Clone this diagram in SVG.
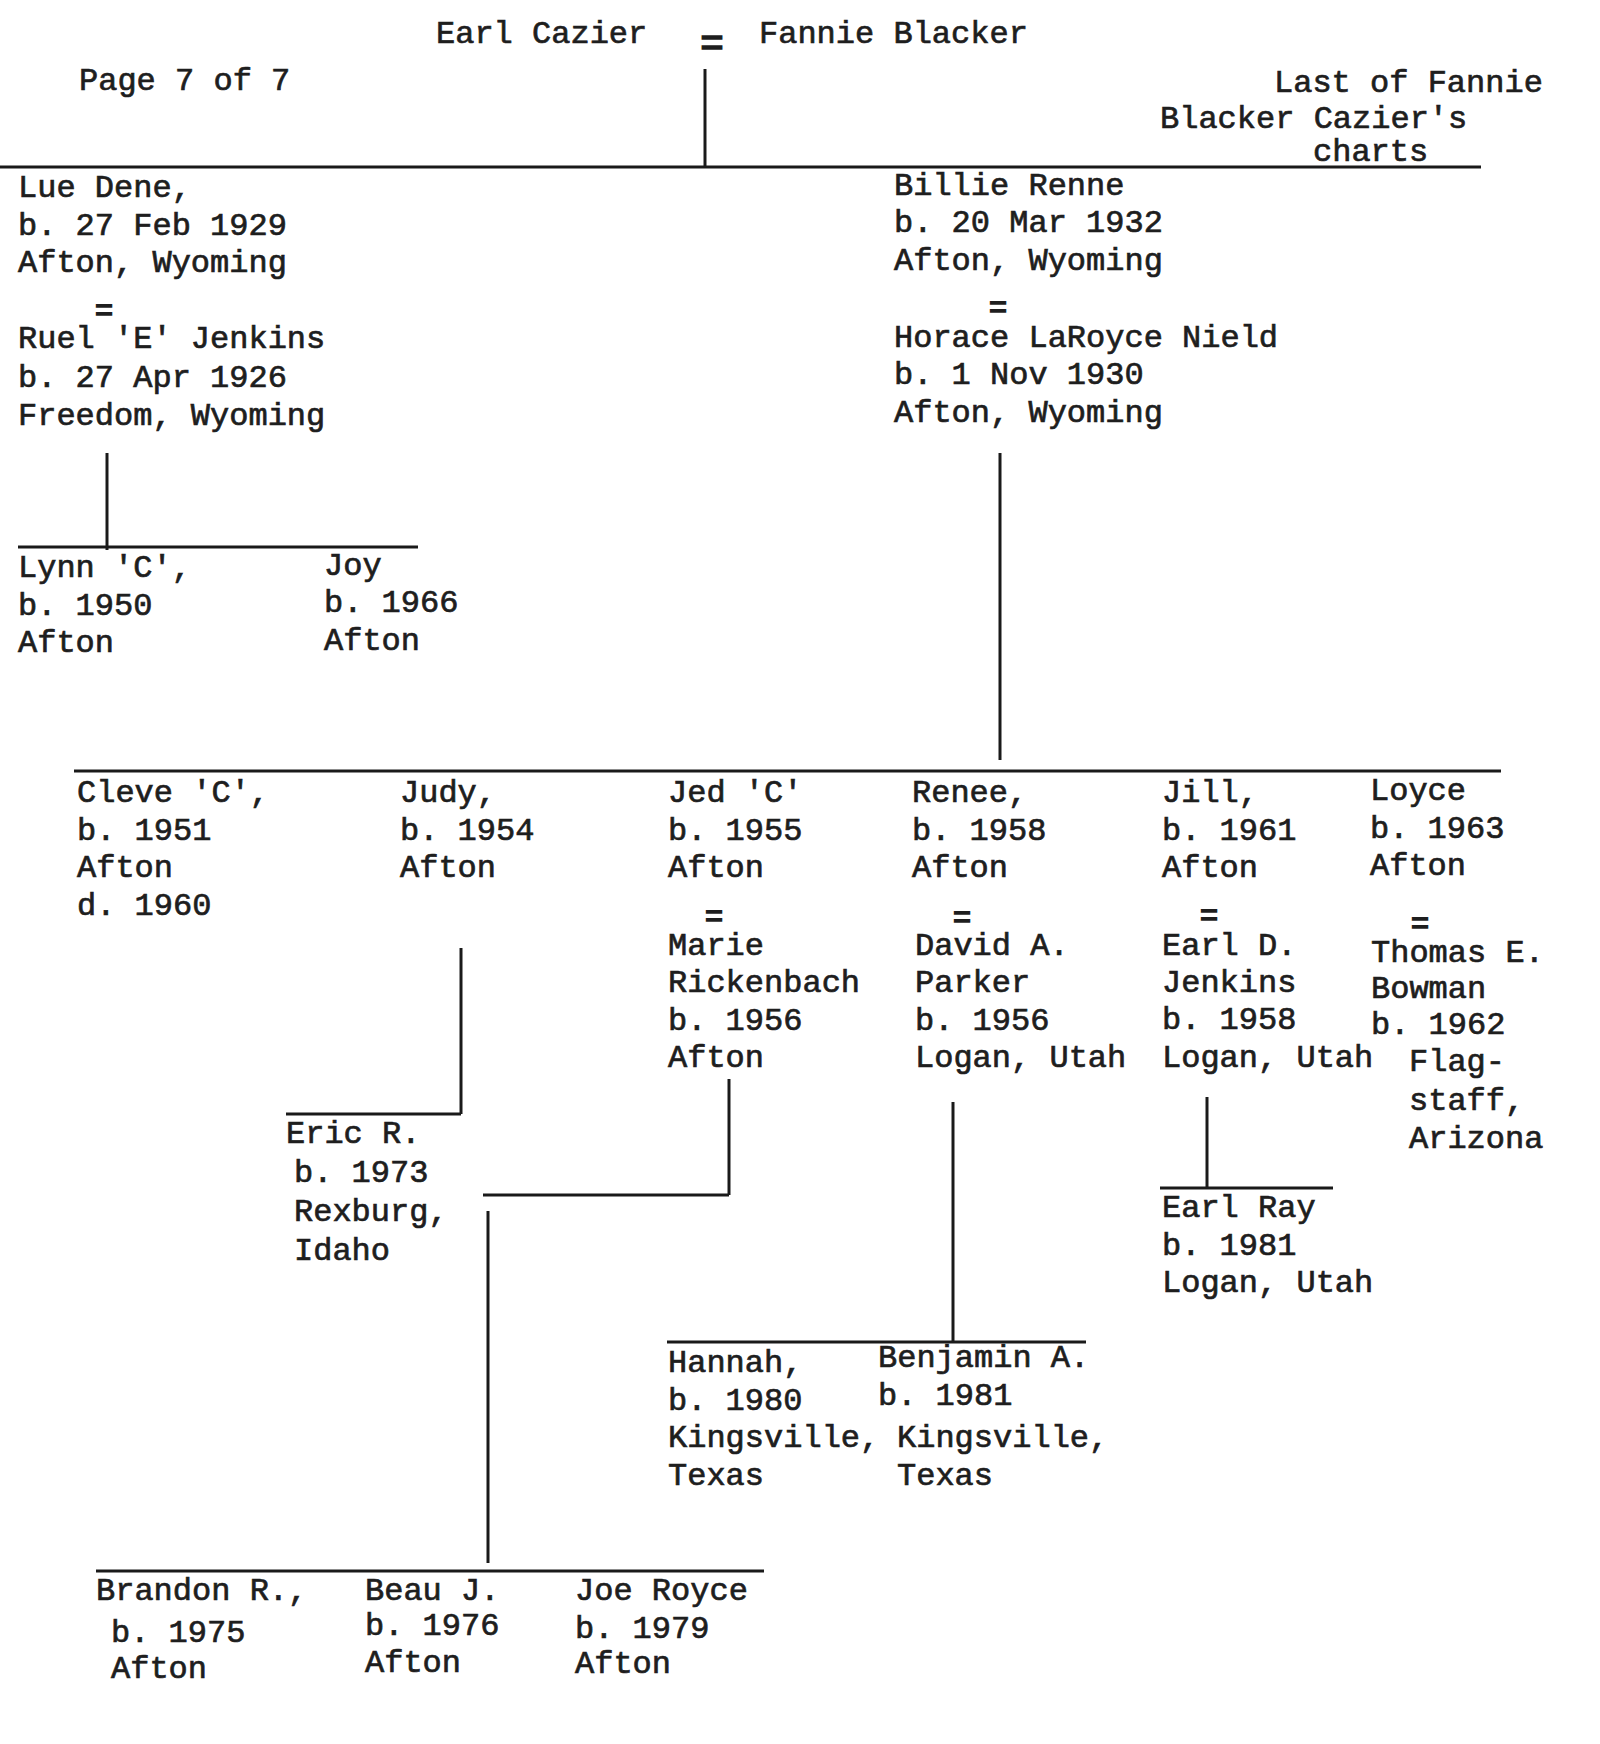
<svg xmlns="http://www.w3.org/2000/svg" width="1600" height="1744" viewBox="0 0 1600 1744">
<style>
text{font-family:"Liberation Mono","Courier New",monospace;font-size:32px;fill:#1e1e1e;stroke:#1e1e1e;stroke-width:0.7px}
text.eq{text-anchor:middle;font-size:31px;stroke-width:1.3px}
text.eqbig{text-anchor:middle;font-size:40px;stroke-width:1.4px}
.ln{stroke:#1a1a1a;stroke-width:3;fill:none;stroke-linecap:butt}
</style>
<rect width="1600" height="1744" fill="#ffffff"/>
<g id="connectors">
<line class="ln" x1="705" y1="69" x2="705" y2="167"/>
<line class="ln" x1="0" y1="167" x2="1481" y2="167"/>
<line class="ln" x1="107" y1="453" x2="107" y2="550"/>
<line class="ln" x1="18" y1="547" x2="418" y2="547"/>
<line class="ln" x1="1000" y1="453" x2="1000" y2="760"/>
<line class="ln" x1="74" y1="771" x2="1501" y2="771"/>
<line class="ln" x1="461" y1="948" x2="461" y2="1114"/>
<line class="ln" x1="286" y1="1114" x2="461" y2="1114"/>
<line class="ln" x1="729" y1="1079" x2="729" y2="1195"/>
<line class="ln" x1="483" y1="1195" x2="729" y2="1195"/>
<line class="ln" x1="488" y1="1211" x2="488" y2="1563"/>
<line class="ln" x1="96" y1="1571" x2="764" y2="1571"/>
<line class="ln" x1="953" y1="1102" x2="953" y2="1342"/>
<line class="ln" x1="667" y1="1342" x2="1086" y2="1342"/>
<line class="ln" x1="1207" y1="1097" x2="1207" y2="1188"/>
<line class="ln" x1="1160" y1="1188" x2="1333" y2="1188"/>
</g>
<g id="header">
<text x="79" y="90">Page 7 of 7</text>
<text x="1274" y="92">Last of Fannie</text>
<text x="1160" y="128">Blacker Cazier's</text>
<text x="1313" y="161">charts</text>
</g>
<g id="parents">
<text x="436" y="43">Earl Cazier</text>
<text class="eqbig" x="712" y="56">=</text>
<text x="759" y="43">Fannie Blacker</text>
</g>
<g id="lue-dene">
<text x="18" y="197">Lue Dene,</text>
<text x="18" y="235">b. 27 Feb 1929</text>
<text x="18" y="272">Afton, Wyoming</text>
<text class="eq" x="104" y="320">=</text>
<text x="18" y="348">Ruel 'E' Jenkins</text>
<text x="18" y="387">b. 27 Apr 1926</text>
<text x="18" y="425">Freedom, Wyoming</text>
</g>
<g id="billie-renne">
<text x="894" y="195">Billie Renne</text>
<text x="894" y="232">b. 20 Mar 1932</text>
<text x="894" y="270">Afton, Wyoming</text>
<text class="eq" x="998" y="317">=</text>
<text x="894" y="347">Horace LaRoyce Nield</text>
<text x="894" y="384">b. 1 Nov 1930</text>
<text x="894" y="422">Afton, Wyoming</text>
</g>
<g id="lynn">
<text x="18" y="577">Lynn 'C',</text>
<text x="18" y="615">b. 1950</text>
<text x="18" y="652">Afton</text>
</g>
<g id="joy">
<text x="324" y="575">Joy</text>
<text x="324" y="612">b. 1966</text>
<text x="324" y="650">Afton</text>
</g>
<g id="cleve">
<text x="77" y="802">Cleve 'C',</text>
<text x="77" y="840">b. 1951</text>
<text x="77" y="877">Afton</text>
<text x="77" y="915">d. 1960</text>
</g>
<g id="judy">
<text x="400" y="802">Judy,</text>
<text x="400" y="840">b. 1954</text>
<text x="400" y="877">Afton</text>
</g>
<g id="jed">
<text x="668" y="802">Jed 'C'</text>
<text x="668" y="840">b. 1955</text>
<text x="668" y="877">Afton</text>
<text class="eq" x="714" y="926">=</text>
<text x="668" y="955">Marie</text>
<text x="668" y="992">Rickenbach</text>
<text x="668" y="1030">b. 1956</text>
<text x="668" y="1067">Afton</text>
</g>
<g id="renee">
<text x="912" y="802">Renee,</text>
<text x="912" y="840">b. 1958</text>
<text x="912" y="877">Afton</text>
<text class="eq" x="962" y="927">=</text>
<text x="915" y="955">David A.</text>
<text x="915" y="992">Parker</text>
<text x="915" y="1030">b. 1956</text>
<text x="915" y="1067">Logan, Utah</text>
</g>
<g id="jill">
<text x="1162" y="802">Jill,</text>
<text x="1162" y="840">b. 1961</text>
<text x="1162" y="877">Afton</text>
<text class="eq" x="1209" y="925">=</text>
<text x="1162" y="955">Earl D.</text>
<text x="1162" y="992">Jenkins</text>
<text x="1162" y="1029">b. 1958</text>
<text x="1162" y="1067">Logan, Utah</text>
</g>
<g id="loyce">
<text x="1370" y="800">Loyce</text>
<text x="1370" y="838">b. 1963</text>
<text x="1370" y="875">Afton</text>
<text class="eq" x="1420" y="933">=</text>
<text x="1371" y="962">Thomas E.</text>
<text x="1371" y="998">Bowman</text>
<text x="1371" y="1034">b. 1962</text>
<text x="1409" y="1071">Flag-</text>
<text x="1409" y="1110">staff,</text>
<text x="1409" y="1148">Arizona</text>
</g>
<g id="eric">
<text x="286" y="1143">Eric R.</text>
<text x="294" y="1182">b. 1973</text>
<text x="294" y="1221">Rexburg,</text>
<text x="294" y="1260">Idaho</text>
</g>
<g id="earl-ray">
<text x="1162" y="1217">Earl Ray</text>
<text x="1162" y="1255">b. 1981</text>
<text x="1162" y="1292">Logan, Utah</text>
</g>
<g id="hannah">
<text x="668" y="1372">Hannah,</text>
<text x="668" y="1410">b. 1980</text>
<text x="668" y="1447">Kingsville,</text>
<text x="668" y="1485">Texas</text>
</g>
<g id="benjamin">
<text x="878" y="1367">Benjamin A.</text>
<text x="878" y="1405">b. 1981</text>
<text x="897" y="1447">Kingsville,</text>
<text x="897" y="1485">Texas</text>
</g>
<g id="brandon">
<text x="96" y="1600">Brandon R.,</text>
<text x="111" y="1642">b. 1975</text>
<text x="111" y="1678">Afton</text>
</g>
<g id="beau">
<text x="365" y="1600">Beau J.</text>
<text x="365" y="1635">b. 1976</text>
<text x="365" y="1672">Afton</text>
</g>
<g id="joe-royce">
<text x="575" y="1600">Joe Royce</text>
<text x="575" y="1638">b. 1979</text>
<text x="575" y="1673">Afton</text>
</g>
</svg>
